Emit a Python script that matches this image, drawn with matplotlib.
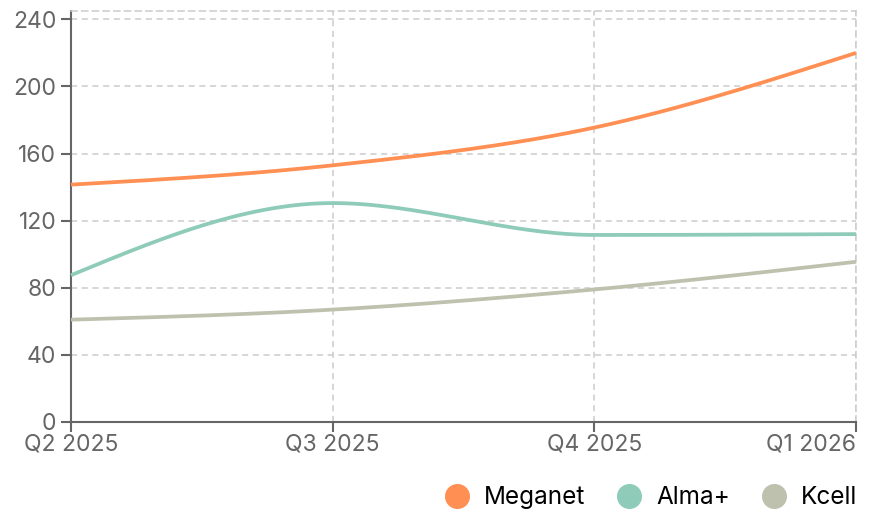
import numpy as np
import matplotlib
matplotlib.use("Agg")
import matplotlib.pyplot as plt
from matplotlib.lines import Line2D

plt.rcParams['font.family'] = ['Inter', 'DejaVu Sans']

quarters = ["Q2 2025", "Q3 2025", "Q4 2025", "Q1 2026"]
meganet = [141.5, 153, 175.5, 220]
alma = [87.5, 130.5, 111.5, 112]
kcell = [61, 67, 79, 95.5]
series_names = ["Meganet", "Alma+", "Kcell"]
colors = ["#FF8F52", "#8ECBB8", "#BFC1AF"]
yticks = [0, 40, 80, 120, 160, 200, 240]


def monotone(xs, ys, n=60):
    xs = np.asarray(xs, float); ys = np.asarray(ys, float)
    h = np.diff(xs); s = np.diff(ys) / h
    m = np.zeros(len(xs))
    for i in range(1, len(xs) - 1):
        p = (s[i - 1] * h[i] + s[i] * h[i - 1]) / (h[i - 1] + h[i])
        m[i] = (np.sign(s[i - 1]) + np.sign(s[i])) * min(abs(s[i - 1]), abs(s[i]), 0.5 * abs(p))
    m[0] = (3 * s[0] - m[1]) / 2
    m[-1] = (3 * s[-1] - m[-2]) / 2
    X, Y = [], []
    for i in range(len(xs) - 1):
        t = np.linspace(0, 1, n)
        x0, x1 = xs[i], xs[i + 1]; dx = x1 - x0
        h00 = 2 * t**3 - 3 * t**2 + 1; h10 = t**3 - 2 * t**2 + t
        h01 = -2 * t**3 + 3 * t**2; h11 = t**3 - t**2
        X.append(x0 + t * dx)
        Y.append(h00 * ys[i] + h10 * dx * m[i] + h01 * ys[i + 1] + h11 * dx * m[i + 1])
    return np.concatenate(X), np.concatenate(Y)


fig = plt.figure(figsize=(8.71, 5.22), dpi=100)
ax = fig.add_axes([71 / 871, 100 / 522, 785 / 871, 411 / 522])

x = np.arange(len(quarters))
for vals, c in zip([meganet, alma, kcell], colors):
    X, Y = monotone(x, vals)
    ax.plot(X, Y, color=c, lw=2.7, solid_capstyle='butt', zorder=3, clip_on=False)

ax.set_xlim(0, len(quarters) - 1)
ax.set_ylim(0, 245)
ax.set_yticks(yticks)
ax.set_xticks(x)
ax.set_xticklabels(quarters)
ax.grid(True, color='#CCCCCC', ls=(0, (4, 3)), lw=1.1)
ax.set_axisbelow(True)
for sp in ['top', 'right']:
    ax.spines[sp].set_color('#CCCCCC')
    ax.spines[sp].set_linestyle((0, (4, 3)))
    ax.spines[sp].set_linewidth(1.1)
for sp in ['left', 'bottom']:
    ax.spines[sp].set_color('#666666')
    ax.spines[sp].set_linewidth(1.5)
ax.tick_params(axis='both', colors='#666666', labelcolor='#666666', labelsize=16.5,
               length=7.5, width=1.5)
ax.tick_params(axis='y', pad=3)
ax.tick_params(axis='x', pad=1)
labels = ax.get_xticklabels()
labels[-1].set_ha('right')

handles = [Line2D([], [], marker='o', ls='', markersize=17, markerfacecolor=c, markeredgecolor=c)
           for c in colors]
fig.legend(handles, series_names, loc='lower right', bbox_to_anchor=(1.004, -0.008), ncol=3,
           frameon=False, fontsize=17.5, handletextpad=0.62, columnspacing=1.3,
           handlelength=1.0, borderaxespad=0.3)

fig.savefig("out.png", dpi=100)
